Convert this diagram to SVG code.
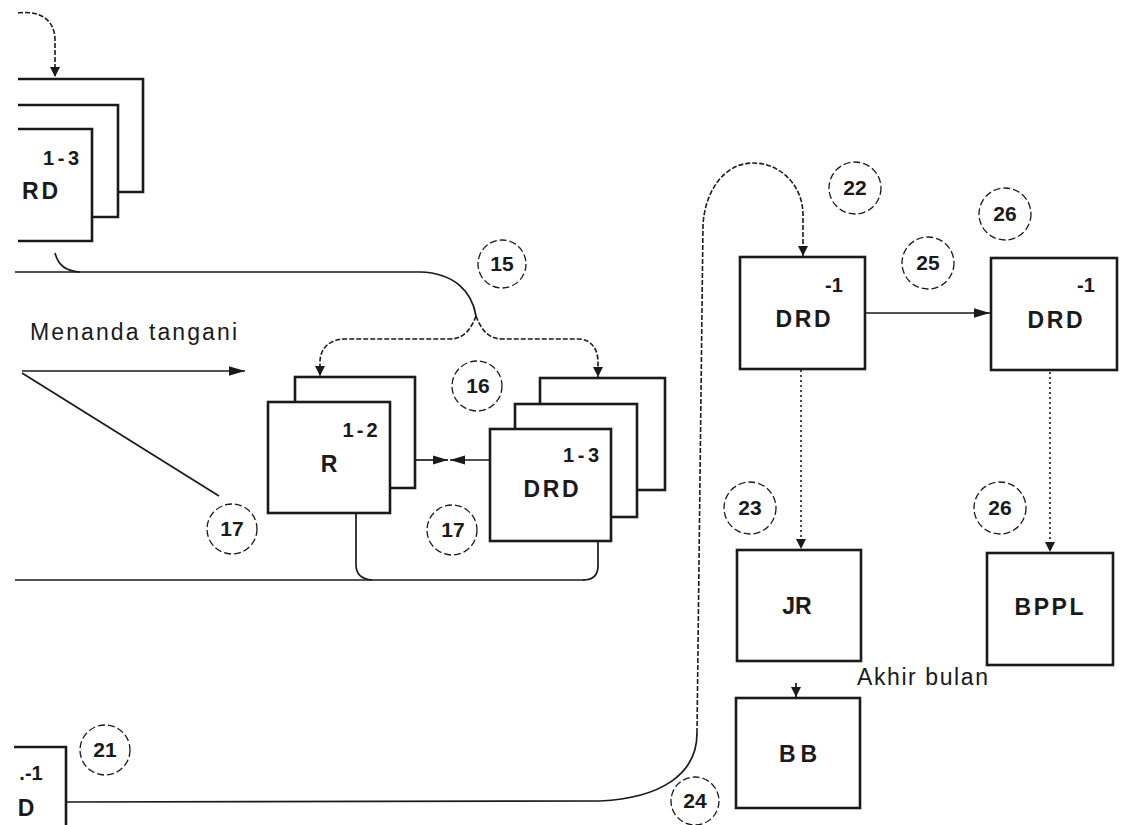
<svg xmlns="http://www.w3.org/2000/svg" width="1127" height="825" viewBox="0 0 1127 825">
<defs>
<style>
.box{fill:#fff;stroke:#1a1a1a;stroke-width:2.6}
.ln{fill:none;stroke:#1a1a1a;stroke-width:1.7}
.dl{fill:none;stroke:#1a1a1a;stroke-width:1.6;stroke-dasharray:5 2}
.dt{fill:none;stroke:#1a1a1a;stroke-width:1.6;stroke-dasharray:2 3}
.cir{fill:none;stroke:#1a1a1a;stroke-width:1.3;stroke-dasharray:7 3}
.t{font-family:"Liberation Sans",Arial,sans-serif;fill:#1a1a1a}
.lb{font-size:23px;text-anchor:middle;font-weight:bold}
.sm{font-size:20px;text-anchor:middle;font-weight:bold}
.num{font-size:21px;text-anchor:middle;font-weight:bold}
.cap{font-size:23px}
</style>
<marker id="ah" viewBox="0 0 10 10" refX="10" refY="5" markerWidth="10" markerHeight="10" markerUnits="userSpaceOnUse" orient="auto">
<path d="M0,0 L10,5 L0,10 z" fill="#1a1a1a"/>
</marker>
<marker id="ahl" viewBox="0 0 10 10" refX="10" refY="5" markerWidth="16" markerHeight="16" markerUnits="userSpaceOnUse" orient="auto">
<path d="M0,2 L10,5 L0,8 z" fill="#1a1a1a"/>
</marker>
<marker id="ahm" viewBox="0 0 10 10" refX="10" refY="5" markerWidth="15" markerHeight="15" markerUnits="userSpaceOnUse" orient="auto">
<path d="M0,2 L10,5 L0,8 z" fill="#1a1a1a"/>
</marker>
</defs>
<rect width="1127" height="825" fill="#fff"/>

<g id="connectors">
<path class="dl" d="M18,13 C40,10 55,20 55,40 L55,77" marker-end="url(#ah)"/>
<path class="ln" d="M55,253 C58,264 64,271 80,272"/>
<path class="ln" d="M15,272 L420,272 C455,273 472,292 476,316"/>
<path class="dl" d="M476,316 C470,332 462,339 450,339 L345,339 C330,339 320,348 320,362 L320,376" marker-end="url(#ah)"/>
<path class="dl" d="M476,316 C482,332 490,339 502,339 L578,339 C592,339 598,350 598,362 L598,377" marker-end="url(#ah)"/>
<path class="ln" d="M22,371 L245,371" marker-end="url(#ahl)"/>
<path class="ln" d="M22,373 L219,496"/>
<path class="ln" d="M416,460 L448,460" marker-end="url(#ahm)"/>
<path class="ln" d="M490,460 L450,460" marker-end="url(#ahm)"/>
<path class="ln" d="M15,580 L585,580"/>
<path class="ln" d="M356,513 L356,565 C356,574 361,579 372,580"/>
<path class="ln" d="M598,541 L598,566 C598,575 593,580 583,580"/>
<path class="ln" d="M66,802 L600,801 C660,798 697,775 697,733"/>
<path class="dl" d="M697,733 L703,225 C705,190 725,163 753,163 C780,163 803,185 803,215 L803,256" marker-end="url(#ah)"/>
<path class="ln" d="M866,313 L990,313" marker-end="url(#ahl)"/>
<path class="dt" d="M801,370 L801,549" marker-end="url(#ah)"/>
<path class="dt" d="M1050,372 L1050,552" marker-end="url(#ah)"/>
<path class="ln" d="M796,683 L796,697" marker-end="url(#ah)"/>
</g>

<g id="stack-topleft">
<path class="box" d="M18,79 L143,79 L143,192 L18,192"/>
<path class="box" d="M18,105 L118,105 L118,217 L18,217"/>
<path class="box" d="M18,129 L92,129 L92,241 L18,241"/>
<rect x="0" y="131" width="16" height="108" fill="#fff"/>
<text class="t sm" x="61" y="165" textLength="36" lengthAdjust="spacing">1-3</text>
<text class="t lb" x="40" y="199" textLength="36" lengthAdjust="spacing">RD</text>
</g>

<g id="stack-R">
<rect class="box" x="295" y="377" width="120" height="111"/>
<rect class="box" x="268" y="402" width="122" height="111"/>
<text class="t sm" x="360" y="437" textLength="35" lengthAdjust="spacing">1-2</text>
<text class="t lb" x="329" y="472">R</text>
</g>

<g id="stack-DRD">
<rect class="box" x="540" y="378" width="125" height="112"/>
<rect class="box" x="515" y="404" width="122" height="113"/>
<rect class="box" x="490" y="429" width="121" height="112"/>
<text class="t sm" x="581" y="462" textLength="36" lengthAdjust="spacing">1-3</text>
<text class="t lb" x="551" y="497" textLength="55" lengthAdjust="spacing">DRD</text>
</g>

<g id="label-menanda">
<text class="t cap" x="30" y="340" textLength="207" lengthAdjust="spacing">Menanda tangani</text>
</g>

<g id="box-DRD1">
<rect class="box" x="740" y="257" width="125" height="112"/>
<text class="t sm" x="834" y="292">-1</text>
<text class="t lb" x="803" y="327" textLength="55" lengthAdjust="spacing">DRD</text>
</g>

<g id="box-DRD2">
<rect class="box" x="991" y="258" width="126" height="112"/>
<text class="t sm" x="1086" y="292">-1</text>
<text class="t lb" x="1055" y="328" textLength="55" lengthAdjust="spacing">DRD</text>
</g>

<g id="box-JR">
<rect class="box" x="737" y="550" width="124" height="111"/>
<text class="t lb" x="797" y="614">JR</text>
</g>

<g id="box-BPPL">
<rect class="box" x="987" y="553" width="126" height="112"/>
<text class="t lb" x="1049" y="615" textLength="69" lengthAdjust="spacing">BPPL</text>
</g>

<g id="box-BB">
<rect class="box" x="736" y="698" width="124" height="110"/>
<text class="t lb" x="798" y="762" textLength="38" lengthAdjust="spacing">BB</text>
</g>

<g id="box-bottomleft">
<path class="box" d="M14,747 L66,747 L66,825"/>
<text class="t sm" x="31" y="780">.-1</text>
<text class="t lb" x="26" y="816">D</text>
</g>

<g id="label-akhir">
<text class="t cap" x="857" y="685" textLength="131" lengthAdjust="spacing">Akhir bulan</text>
</g>

<g id="circles">
<circle class="cir" cx="502" cy="264" r="24"/><text class="t num" x="502" y="271">15</text>
<circle class="cir" cx="477" cy="386" r="25"/><text class="t num" x="478" y="393">16</text>
<circle class="cir" cx="232" cy="529" r="25"/><text class="t num" x="232" y="536">17</text>
<circle class="cir" cx="452" cy="530" r="25"/><text class="t num" x="453" y="537">17</text>
<circle class="cir" cx="105" cy="750" r="25"/><text class="t num" x="105" y="757">21</text>
<circle class="cir" cx="855" cy="188" r="26"/><text class="t num" x="855" y="195">22</text>
<circle class="cir" cx="750" cy="508" r="26"/><text class="t num" x="750" y="515">23</text>
<circle class="cir" cx="695" cy="801" r="24"/><text class="t num" x="695" y="808">24</text>
<circle class="cir" cx="928" cy="263" r="26"/><text class="t num" x="928" y="270">25</text>
<circle class="cir" cx="1005" cy="214" r="26"/><text class="t num" x="1005" y="221">26</text>
<circle class="cir" cx="1000" cy="508" r="26"/><text class="t num" x="1000" y="515">26</text>
</g>
</svg>
